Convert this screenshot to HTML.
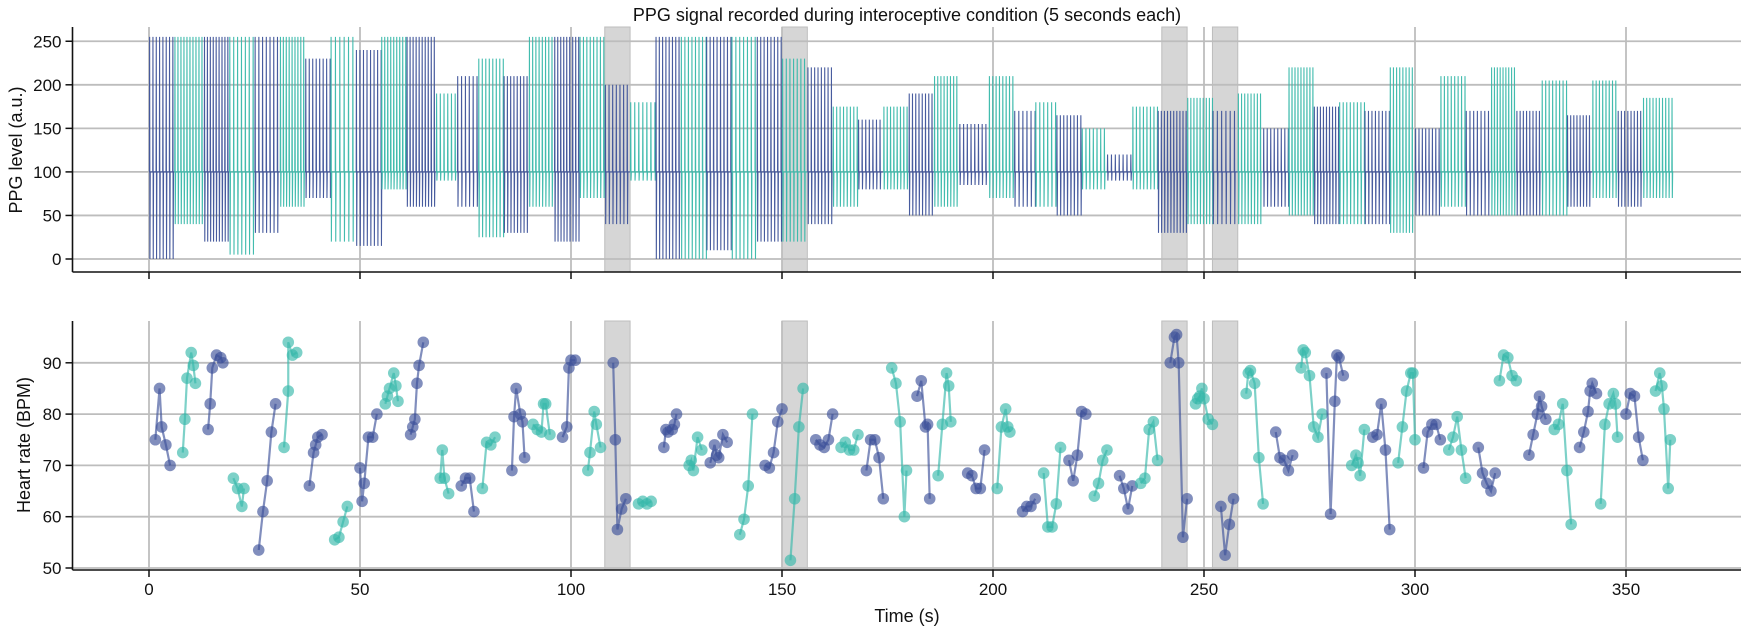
<!DOCTYPE html>
<html><head><meta charset="utf-8">
<style>
html,body{margin:0;padding:0;background:#fff;}
svg{display:block;font-family:"Liberation Sans","DejaVu Sans",sans-serif;}
</style></head>
<body>
<svg id="chart" width="1754" height="630" viewBox="0 0 1754 630" xmlns="http://www.w3.org/2000/svg">
<text x="907" y="21" text-anchor="middle" font-size="18" fill="#111">PPG signal recorded during interoceptive condition (5 seconds each)</text>
<text transform="translate(22,150) rotate(-90)" text-anchor="middle" font-size="18" fill="#111">PPG level (a.u.)</text>
<text transform="translate(30,445) rotate(-90)" text-anchor="middle" font-size="18" fill="#111">Heart rate (BPM)</text>
<text x="907" y="622" text-anchor="middle" font-size="18" fill="#111">Time (s)</text>
<g id="topPanel"></g>
<g id="botPanel"></g>
</svg>
<script>
const xTicks = [0,50,100,150,200,250,300,350];
const ppgTicks = [0,50,100,150,200,250];
const hrTicks = [50,60,70,80,90];
const spans = [[108,114],[150,156],[240,246],[252,258]];
// PPG segments: start, peak max, trough min (color alternates)
const segStart = [0,6,13,19,25,31,37,43,49,55,61,68,73,78,84,90,96,102,108,114,120,126,132,138,144,150,156,162,168,174,180,186,192,199,205,210,215,221,227,233,239,246,252,258,264,270,276,282,288,294,300,306,312,318,324,330,336,342,348,354];
const segMax = [255,255,255,255,255,255,230,255,240,255,255,190,210,230,210,255,255,255,200,180,255,255,255,255,255,230,220,175,160,175,190,210,155,210,170,180,165,150,120,175,170,185,170,190,150,220,175,180,170,220,150,210,170,220,170,205,165,205,170,185];
const segMin = [0,40,20,5,30,60,70,20,15,80,60,90,60,25,30,60,20,70,40,90,0,0,10,0,20,20,40,60,80,80,50,60,85,70,60,60,50,80,90,80,30,40,40,40,60,50,40,40,40,30,50,60,50,50,50,50,60,70,60,70];
const segEnd = 361;
// Heart rate groups (each group = one 5 s segment), times and BPM
const hrTimes = [
[1.5,2.5,3,4,5],[8,8.5,9,10,10.5,11],[14,14.5,15,16,17,17.5],[20,21,22,22.5],[26,27,28,29,30],[32,33,33,34,35],
[38,39,39.5,40,41],[44,45,46,47],[50,50.5,51,52,53,54],[56,56.5,57,58,58.5,59],[62,62.5,63,63.5,64,65],[69,69.5,70,71],
[74,75,76,77],[79,80,81,82],[86,86.5,87,88,88.5,89],[91,92,93,93.5,94,95],[98,99,99.5,100,101],[104,104.5,105.5,106,107],
[110,110.5,111,112,113],[116,117,118,119],[122,122.5,123,124,124.5,125],[128,128.5,129,130,131],[133,134,134.5,135,136,137],[140,141,142,143],
[146,147,148,149,150],[152,153,154,155],[158,159,160,161,162],[164,165,166,167,168],[170,171,172,173,174],[176,177,178,179,179.5],
[182,183,184,184.5,185],[187,188,189,189.5,190],[194,195,196,197,198],[201,202,203,203.5,204],[207,208,209,210],[212,213,214,215,216],
[218,219,220,221,222],[224,225,226,227],[230,231,232,233],[235,236,237,238,239],[242,243,243.5,244,245,246],[248,248.5,249,249.5,250,251,252],
[254,255,256,257],[260,260.5,261,262,263,264],[267,268,269,270,271],[273,273.5,274,275,276,277,278],[279,280,281,281.5,282,283],[285,286,286.5,287,288],
[290,291,292,293,294],[296,297,298,299,299.5,300],[302,303,304,305,306],[308,309,310,311,312],[315,316,317,318,319],[320,321,322,323,324],
[327,328,329,329.5,330,331],[333,334,335,336,337],[339,340,341,341.5,342,343],[344,345,346,347,347.5,348],[350,351,352,353,354],[357,358,358.5,359,360,360.5]];
const hrBpm = [
[75,85,77.5,74,70],[72.5,79,87,92,89.5,86],[77,82,89,91.5,91,90],[67.5,65.5,62,65.5],[53.5,61,67,76.5,82],[73.5,84.5,94,91.5,92],
[66,72.5,74,75.5,76],[55.5,56,59,62],[69.5,63,66.5,75.5,75.5,80],[82,83.5,85,88,85.5,82.5],[76,77.5,79,86,89.5,94],[67.5,73,67.5,64.5],
[66,67.5,67.5,61],[65.5,74.5,74,75.5],[69,79.5,85,80,78.5,71.5],[78,77,76.5,82,82,76],[75.5,77.5,89,90.5,90.5],[69,72.5,80.5,78,73.5],
[90,75,57.5,61.5,63.5],[62.5,63,62.5,63],[73.5,77,76.5,77,78,80],[70,71,69,75.5,73],[70.5,74,72,71.5,76,74.5],[56.5,59.5,66,80],
[70,69.5,72.5,78.5,81],[51.5,63.5,77.5,85],[75,74,73.5,75,80],[73.5,74.5,73,73,76],[69,75,75,71.5,63.5],[89,86,78.5,60,69],
[83.5,86.5,77.5,78,63.5],[68,78,88,85.5,78.5],[68.5,68,65.5,65.5,73],[65.5,77.5,81,77.5,76.5],[61,62,62,63.5],[68.5,58,58,62.5,73.5],
[71,67,72,80.5,80],[64,66.5,71,73],[68,65.5,61.5,66],[66.5,67.5,77,78.5,71],[90,95,95.5,90,56,63.5],[82,83,83.5,85,83,79,78],
[62,52.5,58.5,63.5],[84,88,88.5,86,71.5,62.5],[76.5,71.5,71,69,72],[89,92.5,92,87.5,77.5,75.5,80],[88,60.5,82.5,91.5,91,87.5],[70,72,70.5,68,77],
[75.5,76,82,73,57.5],[70.5,77.5,84.5,88,88,75],[69.5,76.5,78,78,75],[73,75.5,79.5,73,67.5],[73.5,68.5,66.5,65,68.5],[86.5,91.5,91,87.5,86.5],
[72,76,80,83.5,81.5,79],[77,78,82,69,58.5],[73.5,76.5,80.5,84.5,86,84],[62.5,78,82,84,82,75.5],[80,84,83.5,75.5,71],[84.5,88,85.5,81,65.5,75]];

const NS="http://www.w3.org/2000/svg";
const DARK="#3d5299", TEAL="#38b8aa";
const X0=149, XS=4.22, L=72.5, R=1741;
const xs=t=>X0+t*XS;
const T_TOP=27,T_BOT=272, ys1=v=>259-v*0.871;
const B_TOP=321,B_BOT=570, ys2=v=>568-(v-50)*5.13;
function mk(parent,tag,attrs){const e=document.createElementNS(NS,tag);for(const k in attrs)e.setAttribute(k,attrs[k]);parent.appendChild(e);return e;}

function panel(g,tp,bt,ys,yt,isBottom){
  for(const s of spans){
    const r=mk(g,'rect',{x:xs(s[0]),y:tp,width:xs(s[1])-xs(s[0]),height:bt-tp,fill:'#d6d6d6',stroke:'#bdbdbd','stroke-width':1});
    
    
  }
  for(const t of xTicks){
    const l=mk(g,'line',{x1:xs(t),x2:xs(t),y1:tp,y2:bt,stroke:'#bdbdbd','stroke-width':1.8});
    
    
    const tk=mk(g,'line',{x1:xs(t),x2:xs(t),y1:bt,y2:bt+7,stroke:'#111','stroke-width':1.5});
    
    
    if(isBottom){
      const tx=mk(g,'text',{x:xs(t),y:bt+25,'text-anchor':'middle','font-size':17,fill:'#111'});
      tx.textContent=t;
      
      
    }
  }
  for(const v of yt){
    const l=mk(g,'line',{x1:L,x2:R,y1:ys(v),y2:ys(v),stroke:'#bdbdbd','stroke-width':1.8});
    
    
    const tk=mk(g,'line',{x1:L-7,x2:L,y1:ys(v),y2:ys(v),stroke:'#111','stroke-width':1.5});
    
    
    const tx=mk(g,'text',{x:L-11,y:ys(v)+6,'text-anchor':'end','font-size':17,fill:'#111'});
    tx.textContent=v;
    
    
  }
}
const gTop=document.getElementById('topPanel'), gBot=document.getElementById('botPanel');
panel(gTop,T_TOP,T_BOT,ys1,ppgTicks,false);
panel(gBot,B_TOP,B_BOT,ys2,hrTicks,true);

// PPG signal
for(let i=0;i<segStart.length;i++){
  const s=segStart[i], e=(i+1<segStart.length)?segStart[i+1]:segEnd;
  const hr=hrBpm[i]?hrBpm[i].reduce((a,b)=>a+b,0)/hrBpm[i].length:75;
  const per=60/hr;
  let d='M'+xs(s)+','+ys1(100);
  for(let t=s+0.1;t<e;t+=per){
    d+=' L'+xs(t)+','+ys1(100)+' L'+xs(t+0.05)+','+ys1(segMax[i])+' L'+xs(t+0.12)+','+ys1(segMin[i])+' L'+xs(t+0.2)+','+ys1(100);
  }
  d+=' L'+xs(e)+','+ys1(100);
  const p=mk(gTop,'path',{d:d,fill:'none',stroke:i%2?TEAL:DARK,'stroke-width':1.1,opacity:0.95});
  
  
}

// HR series
for(let i=0;i<hrTimes.length;i++){
  const c=i%2?TEAL:DARK;
  const pts=hrTimes[i].map((t,j)=>xs(t)+','+ys2(hrBpm[i][j])).join(' ');
  const pl=mk(gBot,'polyline',{points:pts,fill:'none',stroke:c,'stroke-width':2.2,opacity:0.65});
  
  
  hrTimes[i].forEach((t,j)=>{
    const ci=mk(gBot,'circle',{cx:xs(t),cy:ys2(hrBpm[i][j]),r:5.8,fill:c,opacity:0.65});
    
    
  });
}

// spines
for(const [g,t,b] of [[gTop,T_TOP,T_BOT],[gBot,B_TOP,B_BOT]]){
  const a=mk(g,'line',{x1:L,x2:L,y1:t,y2:b,stroke:'#111','stroke-width':1.6});
  
  
  const c=mk(g,'line',{x1:L,x2:R,y1:b,y2:b,stroke:'#111','stroke-width':1.6});
  
  
}
</script>
</body></html>
